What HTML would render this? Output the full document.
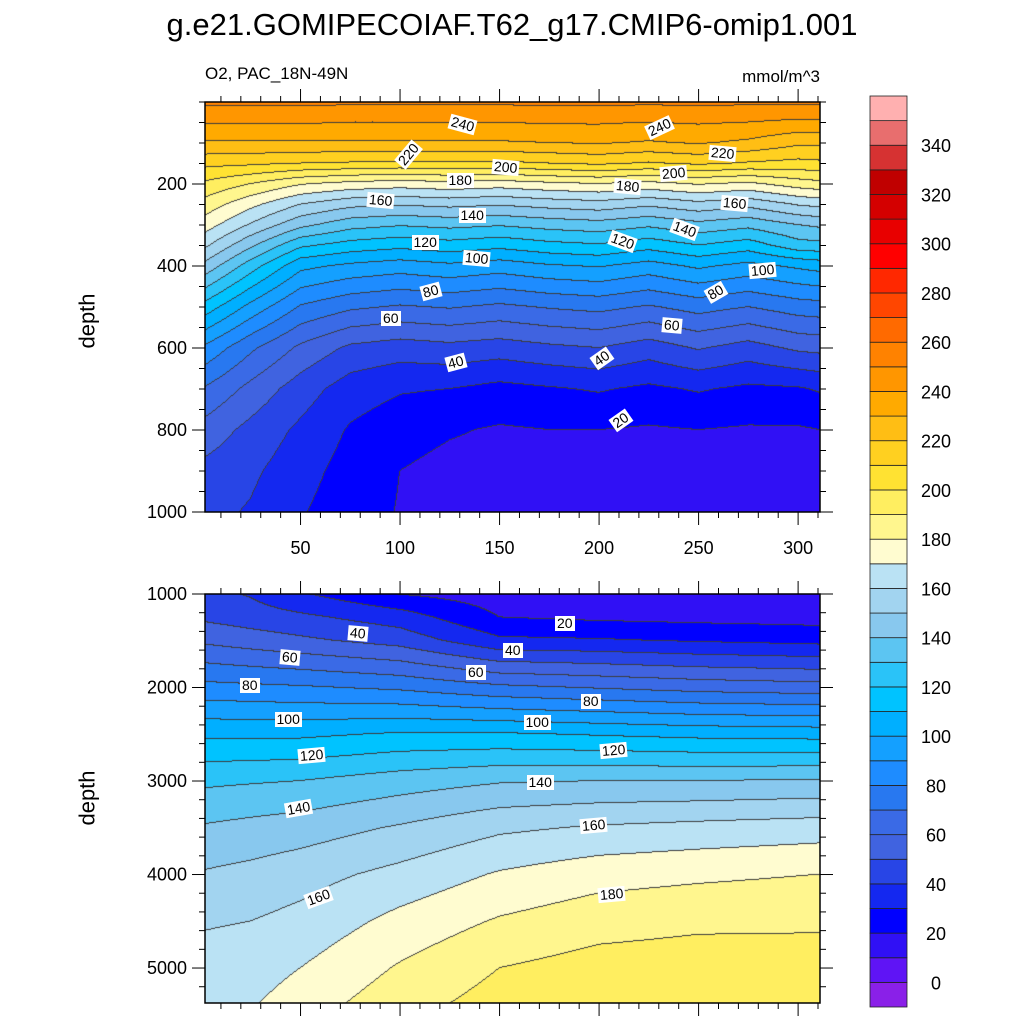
<!DOCTYPE html>
<html><head><meta charset="utf-8">
<style>
body{margin:0;background:#fff;}
#root{position:relative;width:1024px;height:1024px;overflow:hidden;font-family:"Liberation Sans",Arial,sans-serif;color:#000;}
.t{position:absolute;white-space:nowrap;}
.lbl{position:absolute;background:#fff;font-size:14px;line-height:15px;padding:0 2px;transform-origin:center;white-space:nowrap;}
canvas,svg{position:absolute;left:0;top:0;}
</style></head><body>
<div id="root">
<canvas id="cv" width="1024" height="1024"></canvas>
<svg id="ax" width="1024" height="1024"></svg>
<div class="t" style="left:0;width:1024px;text-align:center;top:7px;font-size:31px;">g.e21.GOMIPECOIAF.T62_g17.CMIP6-omip1.001</div>
<div class="t" style="left:205px;top:64px;font-size:17px;">O2, PAC_18N-49N</div>
<div class="t" style="right:204px;top:67px;font-size:17px;">mmol/m^3</div>
<div class="t" style="left:60px;top:308px;font-size:22px;transform:rotate(-90deg);transform-origin:center;">depth</div>
<div class="t" style="left:60px;top:785px;font-size:22px;transform:rotate(-90deg);transform-origin:center;">depth</div>
<div id="labels"></div>
</div>
<script>
// ---------- data ----------
const levels = [0,10,20,30,40,50,60,70,80,90,100,110,120,130,140,150,160,170,180,190,200,210,220,230,240,250,260,270,280,290,300,310,320,330,340,350];
const colors = ["#8a20e8","#5f14f5","#3010f5","#0000ff","#1428f0","#2845e6","#4063e0","#3a6ae6","#2878f0","#1e8cff","#14a0ff","#00afff","#00c3ff","#2ac3f8","#5cc5f2","#88c8ee","#a2d4f0","#bae2f4","#fffcd0","#fff68e","#ffee60","#ffe232","#ffd020","#ffbe14","#ffaa00","#ff9600","#ff8200","#ff6a00","#ff4600","#ff2800","#ff0000","#e80000","#d40000","#c00000","#d63232","#e86e6e","#ffb0b0"];
const cbLabels = [0,20,40,60,80,100,120,140,160,180,200,220,240,260,280,300,320,340];

const topDepths = [0,50,100,150,200,250,300,350,400,500,600,700,800,900,1000];
const topX = [2,25,50,75,100,125,150,175,200,225,250,275,300,311];
const topCols = [
 [252,241,229,213,198,186,175,162,147,116,88,69,56,47,43],
 [252,241,229,212,190,173,159,142,125,97,72,57,47,42,39],
 [252,241,229,210,181,160,143,122,103,79,58,45,38,34,31],
 [252,240,229,209,177,153,134,116,98,72,48,35,29,26,24],
 [252,240,229,208,175,151,131,113,95,69,45,31,24,20,19.5],
 [252,240,229,209,177,153,133,116,98,71,47,30,21,17,15],
 [252,240,229,208,175,151,131,113,95,68,45,27,19,16,15],
 [252,241,230,210,178,154,134,117,99,71,48,29,20,16,15],
 [252,241,231,212,180,156,136,119,101,73,50,31,20,17,15],
 [252,240,229,209,177,152,132,114,96,69,45,28,19,16,15],
 [252,241,231,212,181,157,137,120,102,74,51,31,20,17,15],
 [252,240,228,209,178,153,133,115,97,70,46,28,19,16,15],
 [252,238,222,207,185,161,140,126,102,75,52,29,19,16,15],
 [252,238,222,208,187,163,142,127,104,76,53,31,20,16,15]
];
const botDepths = [1000,1250,1500,2000,2500,3000,3500,4000,4500,5000,5380];
const botX = [2,25,50,100,150,200,250,311];
const botCols = [
 [43,48,58,83,108,128,141,151,159,164,166],
 [39,45,55,82,108,129,143,153,160,165,169],
 [31,42,52,81,108,130,145,156,163,170,175],
 [19.5,35,46,78,111,135,151,163,173,181,186],
 [15,20,32,72,111,139,158,171,181,190,194],
 [15,18,31,69,109,140,161,176,186,194,196],
 [15,17,29,66,107,140,163,178,188,195,196],
 [15,16,27,64,106,141,165,180,189,193,194]
];
const xTicks = [50,100,150,200,250,300];
const topYTicks = [200,400,600,800,1000];
const botYTicks = [1000,2000,3000,4000,5000];

// ---------- geometry ----------
const PX0=205, PX1=820, XMIN=2, XMAX=311;
const T = {y0:102,y1:512,dmin:0,dmax:1000};
const B = {y0:594,y1:1003,dmin:1000,dmax:5374};
const xs = v => PX0 + (v-XMIN)/(XMAX-XMIN)*(PX1-PX0);
const yT = d => T.y0 + (d-T.dmin)/(T.dmax-T.dmin)*(T.y1-T.y0);
const yB = d => B.y0 + (d-B.dmin)/(B.dmax-B.dmin)*(B.y1-B.y0);
const CB = {x0:870,x1:907,y0:96,y1:1007};

function seg(arr,v){let i=0;while(i<arr.length-2&&v>arr[i+1])i++;let t=(v-arr[i])/(arr[i+1]-arr[i]);t=Math.max(0,Math.min(1,t));return [i,t];}
function sample(xa,da,cols,x,d){const [i,tx]=seg(xa,x);const [j,ty]=seg(da,d);
 const a=cols[i][j]*(1-ty)+cols[i][j+1]*ty, b=cols[i+1][j]*(1-ty)+cols[i+1][j+1]*ty; return a*(1-tx)+b*tx;}
function lvl(v){let k=0;while(k<levels.length&&v>=levels[k])k++;return k;}
function hex(c){return [parseInt(c.slice(1,3),16),parseInt(c.slice(3,5),16),parseInt(c.slice(5,7),16)];}
const rgb = colors.map(hex);

const cv=document.getElementById('cv'),ctx=cv.getContext('2d');
const img=ctx.createImageData(1024,1024);
function panel(P,yfun,xa,da,cols){
 const W=PX1-PX0,H=P.y1-P.y0;const L=[];
 for(let py=0;py<H;py++){const d=P.dmin+(py+0.5)/H*(P.dmax-P.dmin);const row=[];
  for(let px=0;px<W;px++){const x=XMIN+(px+0.5)/W*(XMAX-XMIN);row.push(lvl(sample(xa,da,cols,x,d)));}L.push(row);}
 for(let py=0;py<H;py++)for(let px=0;px<W;px++){const k=L[py][px];let c=rgb[k];
  const edge=(px<W-1&&L[py][px+1]!==k)||(py<H-1&&L[py+1][px]!==k);
  if(edge)c=[60,60,60];
  const o=((P.y0+py)*1024+PX0+px)*4;img.data[o]=c[0];img.data[o+1]=c[1];img.data[o+2]=c[2];img.data[o+3]=255;}
}
for(let i=0;i<img.data.length;i+=4){img.data[i]=255;img.data[i+1]=255;img.data[i+2]=255;img.data[i+3]=255;}
panel(T,yT,topX,topDepths,topCols);
panel(B,yB,botX,botDepths,botCols);
ctx.putImageData(img,0,0);

// ---------- axes ----------
const NS='http://www.w3.org/2000/svg';const ax=document.getElementById('ax');
function el(tag,at,parent){const e=document.createElementNS(NS,tag);for(const k in at)e.setAttribute(k,at[k]);(parent||ax).appendChild(e);return e;}
function line(x1,y1,x2,y2,w){const e=el('line',{x1,y1,x2,y2,stroke:'#000','stroke-width':w||1});return e;}
function txt(x,y,s,anchor,name){const e=el('text',{x,y,'font-size':18,'text-anchor':anchor,'font-family':'Liberation Sans, Arial, sans-serif'});e.textContent=s;return e;}
function frame(P,yfun,yTicks,minorStep,showX){
 const r=el('rect',{x:PX0,y:P.y0,width:PX1-PX0,height:P.y1-P.y0,fill:'none',stroke:'#000','stroke-width':1.5});
 
 for(let v=10;v<=XMAX;v+=10){const x=xs(v);const maj=v%50===0;const L=maj?13:6;
  line(x,P.y1,x,P.y1+L);line(x,P.y0,x,P.y0-L);}
 for(let d=P.dmin;d<=P.dmax;d+=minorStep){const y=yfun(d);const maj=yTicks.includes(d);const L=maj?13:6;
  line(PX0,y,PX0-L,y);line(PX1,y,PX1+L,y);}
 yTicks.forEach(d=>txt(PX0-18,yfun(d)+6,String(d),'end','y-tick-label'));
 if(showX)xTicks.forEach(v=>txt(xs(v),P.y1+42,String(v),'middle','x-tick-label'));
}
frame(T,yT,topYTicks,50,true);
frame(B,yB,botYTicks,200,false);

// ---------- colorbar ----------
const n=colors.length,bh=(CB.y1-CB.y0)/n;
colors.forEach((c,i)=>{const r=el('rect',{x:CB.x0,y:CB.y1-(i+1)*bh,width:CB.x1-CB.x0,height:bh,fill:c,stroke:'#222','stroke-width':0.8});
 });
cbLabels.forEach(v=>{const i=levels.indexOf(v);txt(936,CB.y1-(i+1)*bh+7,String(v),'middle','colorbar-label');});

// ---------- contour labels ----------
const topLabels=[["240",462,124,15],["240",659,127,-25],["220",408,154,-50],["220",722,153,5],["200",505,167,5],["200",673,173,-5],["180",460,180,0],["180",627,186,5],["160",380,200,5],["160",734,203,5],["140",472,215,0],["140",684,229,20],["120",425,242,0],["120",622,241,20],["100",476,258,5],["100",762,270,-5],["80",431,291,-15],["80",716,292,-30],["60",391,318,0],["60",672,325,5],["40",456,362,-15],["40",602,358,-35],["20",621,420,-35]];
const botLabels=[["20",565,623,0],["40",358,633,5],["40",513,650,0],["60",290,657,5],["60",476,672,0],["80",250,685,0],["80",591,701,0],["100",288,719,0],["100",537,722,0],["120",311,755,-5],["120",613,750,-5],["140",540,782,0],["140",298,808,-10],["160",593,825,-5],["160",318,897,-20],["180",611,894,-5]];
const lb=document.getElementById('labels');
topLabels.concat(botLabels).forEach(([s,x,y,r])=>{const d=document.createElement('div');d.className='lbl';d.textContent=s;
 
 
 lb.appendChild(d);const w=d.offsetWidth,h=d.offsetHeight;d.style.left=(x-w/2)+'px';d.style.top=(y-h/2)+'px';d.style.transform='rotate('+r+'deg)';});
</script>
</body></html>
